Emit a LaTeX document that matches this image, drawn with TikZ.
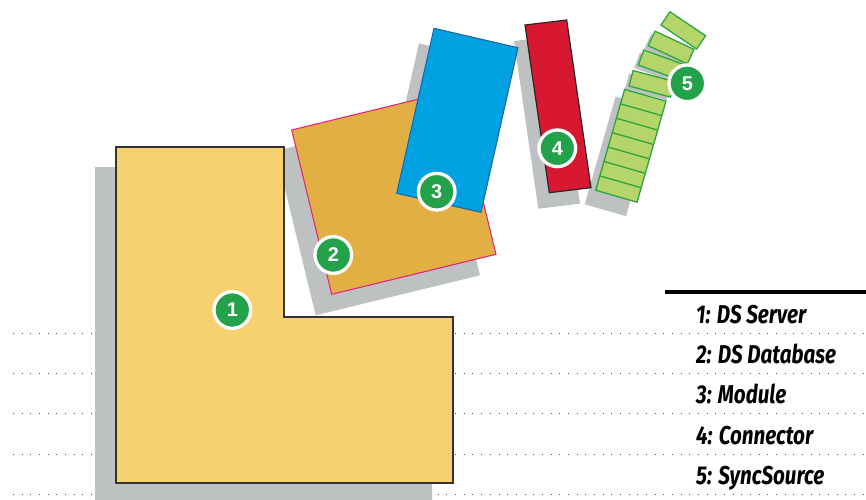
\documentclass[tikz,border=0pt]{standalone}
\usepackage{fontspec}
\newfontfamily\legfont[FakeStretch=0.8]{Fira Sans}
\newfontfamily\numfont{Liberation Sans}
\definecolor{lgold}{HTML}{F7D170}
\definecolor{dgold}{HTML}{E2AF44}
\definecolor{pinkline}{HTML}{E6207E}
\definecolor{mblue}{HTML}{00A1E1}
\definecolor{bline}{HTML}{1B66A8}
\definecolor{cred}{HTML}{D81830}
\definecolor{tgreen}{HTML}{B5D46A}
\definecolor{tline}{HTML}{2AA53C}
\definecolor{ngreen}{HTML}{24A249}
\definecolor{shade}{HTML}{BDC1C1}
\tikzset{
  shadow/.style={fill=shade},
  tile/.style={fill=tgreen, draw=tline, line width=1.1pt},
  num/.style={circle, fill=ngreen, draw=white, line width=2.8pt, minimum size=1.1cm, inner sep=0pt, text=white, font=\numfont\bfseries\fontsize{17}{17}\selectfont},
  legend/.style={anchor=base west, inner sep=0pt, font=\legfont\bfseries\itshape\fontsize{22}{24}\selectfont},
  rowline/.style={black!70, line width=0.8pt, dash pattern=on 0.8pt off 6.6pt}
}

\begin{document}
\begin{tikzpicture}[x=0.03cm,y=-0.03cm]
\useasboundingbox (0,0) rectangle (866,499);
% corners of the rotated blocks
\coordinate (A) at (291.7,130); \coordinate (B) at (456,90); \coordinate (C) at (496,254.3); \coordinate (D) at (331.7,294.3);
\coordinate (E) at (434,28.3); \coordinate (F) at (518,47.7); \coordinate (G) at (481,212.3); \coordinate (H) at (396.7,193.3);
\coordinate (K) at (525,25); \coordinate (L) at (566.7,20); \coordinate (M) at (591,187.7); \coordinate (N) at (549.3,192.7);
% table rows
\foreach \y in {333,373.3,413.7,454,494} \draw[rowline] (13,\y) -- (866,\y);
\draw[line width=2.6pt] (665,292) -- (866,292);
% shadows
\fill[shadow, shift={(-21,20)}] (116,147) -- (284,147) -- (284,317) -- (453,317) -- (453,483) -- (116,483) -- cycle;
\fill[shadow] ([shift={(-16,21)}]A)--([shift={(-16,21)}]B)--([shift={(-16,21)}]C)--([shift={(-16,21)}]D)--cycle;
\fill[shadow] ([shift={(-15,15)}]E)--([shift={(-15,15)}]F)--([shift={(-15,15)}]G)--([shift={(-15,15)}]H)--cycle;
\fill[shadow] ([shift={(-11,16)}]K)--([shift={(-11,16)}]L)--([shift={(-11,16)}]M)--([shift={(-11,16)}]N)--cycle;
\begin{scope}[shift={(584.7,204.3)}, rotate=-16] \fill[shadow] (0,0) rectangle (43,-112); \end{scope}
\foreach \px/\py/\ang in {629/86/15, 638.3/65/20, 648.3/45.7/25}
  \fill[shadow, shift={(\px-4,\py+3)}, rotate=-\ang] (0,0) rectangle (43,-16);
% blocks
\draw[fill=lgold, draw=black!80, line width=1pt] (116,147) -- (284,147) -- (284,317) -- (453,317) -- (453,483) -- (116,483) -- cycle;
\draw[fill=dgold, draw=pinkline, line width=0.9pt] (A)--(B)--(C)--(D)--cycle;
\draw[fill=mblue, draw=bline, line width=0.9pt] (E)--(F)--(G)--(H)--cycle;
\draw[fill=cred, draw=black!85, line width=1pt] (K)--(L)--(M)--(N)--cycle;
\begin{scope}[shift={(595.7,190.3)}, rotate=-16]
  \draw[tile] (0,0) rectangle (43,-105);
  \foreach \k in {1,...,6} \draw[tile] (0,-15*\k) -- (43,-15*\k);
\end{scope}
\foreach \px/\py/\ang in {629/86/15, 638.3/65/20, 648.3/45.7/25, 661/25/34}
  \draw[tile, shift={(\px,\py)}, rotate=-\ang] (0,0) rectangle (43,-16);
% numbers
\node[num] (n1) at (232.3,310) {1};
\node[num] (n2) at (333.3,255) {2};
\node[num] (n3) at (436.7,191.7) {3};
\node[num] (n4) at (557.3,148.3) {4};
\node[num] (n5) at (687.3,83.3) {5};
% legend
\node[legend] (l1) at (696,323) {1: DS Server};
\node[legend] (l2) at (696,363.3) {2: DS Database};
\node[legend] (l3) at (696,403.7) {3: Module};
\node[legend] (l4) at (696,444) {4: Connector};
\node[legend] (l5) at (696,484) {5: SyncSource};
\end{tikzpicture}
\end{document}
